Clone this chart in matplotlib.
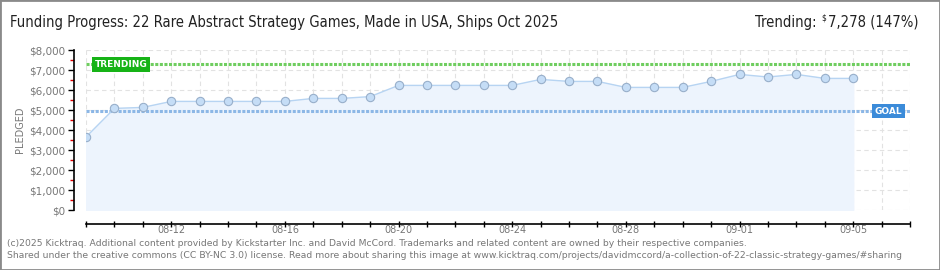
import datetime as dt
import matplotlib
matplotlib.use("Agg")
import matplotlib.pyplot as plt
from matplotlib.patches import Rectangle
from matplotlib.ticker import FuncFormatter, MultipleLocator

# data
start = dt.date(2025, 8, 9)
pledged = [3650, 5080, 5130, 5430, 5430, 5430, 5430, 5430, 5580, 5580,
           5670, 6230, 6230, 6230, 6230, 6230, 6530, 6430, 6430, 6130,
           6130, 6130, 6430, 6780, 6650, 6780, 6580, 6580]
days = [start + dt.timedelta(days=i) for i in range(len(pledged))]
goal = 4950
trending = 7278
trend_pct = 147
x_end = dt.date(2025, 9, 7)
label_days = ["08-12", "08-16", "08-20", "08-24", "08-28", "09-01", "09-05"]

title = "Funding Progress: 22 Rare Abstract Strategy Games, Made in USA, Ships Oct 2025"
foot1 = ("(c)2025 Kicktraq. Additional content provided by Kickstarter Inc. and David McCord. "
         "Trademarks and related content are owned by their respective companies.")
foot2 = ("Shared under the creative commons (CC BY-NC 3.0) license. Read more about sharing this image at "
         "www.kicktraq.com/projects/davidmccord/a-collection-of-22-classic-strategy-games/#sharing")

plt.rcParams['font.family'] = ['DejaVu Sans']
W, H = 940, 270
fig = plt.figure(figsize=(9.4, 2.7), dpi=100)
ax = fig.add_axes([86 / W, (H - 210) / H, 824 / W, 160 / H])

gray = '#777777'

# grid
ax.set_axisbelow(True)
ax.grid(True, color='#e2e2e2', linestyle=(0, (4, 3)), linewidth=0.8)

ax.fill_between(days, pledged, 0, color='#edf4fd', zorder=1)
ax.plot(days, pledged, color='#b7d4f2', linewidth=1, zorder=3,
        marker='o', markersize=6, markerfacecolor='#c5ddf6',
        markeredgecolor='#98afca', markeredgewidth=0.8)

ax.axhline(trending, color='#6fcd5f', linewidth=2.2, linestyle=(0, (1, 0.5)), zorder=2)
ax.axhline(goal, color='#8cb7e6', linewidth=2.2, linestyle=(0, (1, 0.5)), zorder=2)

ax.text((95 - 86) / 824, trending, "TRENDING", transform=ax.get_yaxis_transform(),
        ha='left', va='center', color='white', fontsize=6.5, fontweight='bold', zorder=5,
        bbox=dict(boxstyle='square,pad=0.3', fc='#17b317', ec='none'))
ax.text((902 - 86) / 824, goal, "GOAL", transform=ax.get_yaxis_transform(),
        ha='right', va='center', color='white', fontsize=6.5, fontweight='bold', zorder=5,
        bbox=dict(boxstyle='square,pad=0.3', fc='#3b8bd9', ec='none'))

ax.set_xlim(start, x_end)
ax.set_ylim(0, 8000)

# axes styling
for s in ['top', 'right']:
    ax.spines[s].set_visible(False)
ax.spines['left'].set_position(('outward', 9))
ax.spines['bottom'].set_position(('outward', 10))
ax.spines['left'].set_linewidth(1.2)
ax.spines['bottom'].set_linewidth(1.2)

ax.yaxis.set_major_locator(MultipleLocator(1000))
ax.yaxis.set_minor_locator(MultipleLocator(500))
ax.yaxis.set_major_formatter(FuncFormatter(lambda v, p: "${:,.0f}".format(v)))
ax.tick_params(axis='y', which='major', length=4, width=1, color='black',
               labelsize=7.5, labelcolor=gray, pad=2)
ax.tick_params(axis='y', which='minor', length=3, width=1, color='#e00000')

tick_days = [start + dt.timedelta(days=i) for i in range((x_end - start).days + 1)]
ax.set_xticks(tick_days)
ax.set_xticklabels([d.strftime("%m-%d") if d.strftime("%m-%d") in label_days else ""
                    for d in tick_days])
ax.tick_params(axis='x', which='major', direction='inout', length=5, width=1,
               color='black', labelsize=7, labelcolor=gray, pad=-2)
ax.grid(True, axis='x', which='major')

fig.text(20 / W, 1 - 130 / H, "PLEDGED", rotation=90, ha='center', va='center',
         fontsize=7, color=gray)

# titles
cond = dict(family=['DejaVu Sans'], fontstretch='condensed')
fig.text(10 / W, 1 - 22 / H, title, ha='left', va='center', fontsize=10.6,
         color='#222222', **cond)
r1 = fig.text(918 / W, 1 - 22 / H, "{:,} ({}%)".format(trending, trend_pct),
              ha='right', va='center', fontsize=10.6, color='#222222', **cond)
fig.canvas.draw()
bb = r1.get_window_extent()
r2 = fig.text((bb.x0 - 1) / W, 1 - 18 / H, "$", ha='right', va='center', fontsize=6,
              color='#222222', **cond)
fig.canvas.draw()
bb2 = r2.get_window_extent()
fig.text((bb2.x0 - 5) / W, 1 - 22 / H, "Trending:", ha='right', va='center',
         fontsize=10.6, color='#222222', **cond)

fig.text(7 / W, 1 - 243 / H, foot1, ha='left', va='center', fontsize=6.7, color=gray)
fig.text(7 / W, 1 - 256 / H, foot2, ha='left', va='center', fontsize=6.7, color=gray)

fig.patches.append(Rectangle((0, 0), 1, 1, transform=fig.transFigure, fill=False,
                             edgecolor='#8a8a8a', linewidth=2))

fig.savefig("out.png", dpi=100)
